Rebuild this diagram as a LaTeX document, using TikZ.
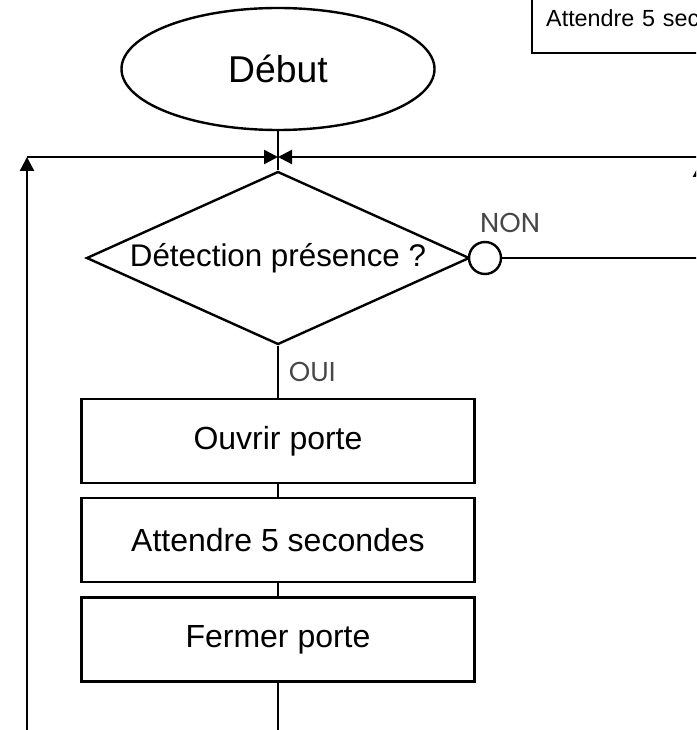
\documentclass[tikz,border=0pt]{standalone}
\usepackage{fontspec}
\setmainfont{Liberation Sans}
\newfontfamily\tagfont{Poppins}
\usetikzlibrary{shapes.geometric,arrows.meta}

\begin{document}
\begin{tikzpicture}[
    x=0.75pt, y=-0.75pt,
    % Styles
    terminal/.style={draw, ellipse, line width=1.8pt, minimum width=234.75pt, minimum height=91.5pt, inner sep=0pt, font=\fontsize{28}{32}\selectfont},
    decision/.style={draw, diamond, line width=1.8pt, minimum width=287.25pt, minimum height=129.75pt, inner sep=0pt, font=\fontsize{23.5}{28}\selectfont},
    process/.style={draw, rectangle, line width=1.8pt, minimum width=294.75pt, minimum height=63pt, inner sep=0pt, font=\fontsize{24}{28}\selectfont},
    connector/.style={draw, circle, line width=1.8pt, minimum size=24pt, inner sep=0pt, fill=white},
    notebox/.style={draw, line width=1.8pt, anchor=south west, inner xsep=10.5pt, inner ysep=0pt, text height=50pt, text depth=20pt, text width=220pt, align=left, font=\fontsize{17.5}{20}\selectfont},
    tag/.style={font=\tagfont\fontsize{20.5}{24}\selectfont, text=black!72},
    line/.style={line width=1.8pt},
    arrow/.style={line width=1.8pt, -{Triangle[length=10.5pt,width=10.5pt]}},
]
\useasboundingbox (0,0) rectangle (696,730);
\clip (0,0) rectangle (696,730);

% Note at top right
\node[notebox] (note) at (531,54) {Attendre 5 secondes};

% Main chart
\node[terminal] (debut) at (278,69) {Début};
\node[decision] (test) at (278,258) {\makebox[0pt]{Détection présence ?}};
\node[connector] (nonc) at (485,258) {};
\node[tag] (non) at (510,223) {NON};

\node[process] (ouvrir) at (278,441) {Ouvrir porte};
\node[process] (attendre) at (278,540) {Attendre 5 secondes};
\node[process] (fermer) at (278,639.5) {Fermer porte};

% Loop points
\coordinate (jn) at (278,157);
\coordinate (lb) at (27,745);
\coordinate (lt) at (27,157);
\coordinate (rb) at (700,258);
\coordinate (rt) at (700,163);
\coordinate (rc) at (720,157);
\coordinate (fb) at (278,745);

% Connectors
\draw[line] (debut) -- (test);
\draw[line] (test) -- node[tag, right, xshift=4pt] {OUI} (ouvrir);
\draw[line] (ouvrir) -- (attendre);
\draw[line] (attendre) -- (fermer);
\draw[line] (fermer) -- (fb);

% Return from the bottom (left)
\draw[arrow] (lb) -- (lt);
\draw[arrow] (lt) -- (jn);

% NON branch (right)
\draw[line] (nonc) -- (rb);
\draw[arrow] (rb) -- (rt);
\draw[arrow] (rc) -- (jn);

\end{tikzpicture}
\end{document}
